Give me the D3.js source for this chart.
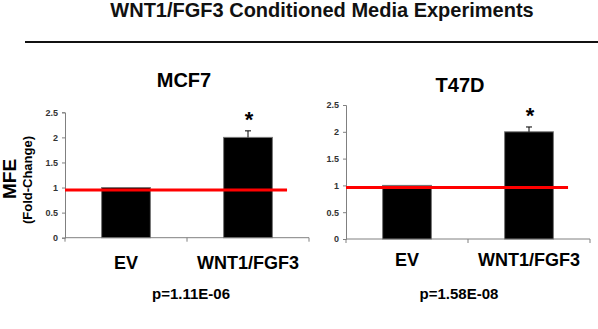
<!DOCTYPE html>
<html>
<head>
<meta charset="utf-8">
<script src="https://cdn.jsdelivr.net/npm/d3@7"></script>
<style>
  body { margin: 0; background: #fff; }
  svg { display: block; font-family: "Liberation Sans", Arial, sans-serif; }
</style>
</head>
<body>
<svg id="chart"></svg>
<script>
"use strict";

// data
const categories = ["EV", "WNT1/FGF3"];
const panelNames = ["MCF7", "T47D"];
const mcf7Values = [1.0, 2.0];
const mcf7Errors = [0, 0.13];
const t47dValues = [1.0, 2.0];
const t47dErrors = [0, 0.09];
const refLines = [0.95, 0.96];
const yTicks = [0, 0.5, 1, 1.5, 2, 2.5];
const pLabels = ["p=1.11E-06", "p=1.58E-08"];
const sigMarks = ["", "*"];

const W = 598, H = 329;
const svg = d3.select("#chart").attr("width", W).attr("height", H);

// main title + rule
svg.append("text")
  .attr("x", 322).attr("y", 17)
  .attr("text-anchor", "middle")
  .attr("font-size", 20).attr("font-weight", "bold")
  .attr("fill", "#111")
  .text("WNT1/FGF3 Conditioned Media Experiments");

svg.append("line")
  .attr("x1", 25).attr("x2", 598)
  .attr("y1", 42).attr("y2", 42)
  .attr("stroke", "#111").attr("stroke-width", 2);

// y axis label (shared, left side)
svg.append("text")
  .attr("transform", "translate(16,179) rotate(-90)")
  .attr("text-anchor", "middle")
  .attr("font-size", 19).attr("font-weight", "bold")
  .text("MFE");
svg.append("text")
  .attr("transform", "translate(32,180) rotate(-90)")
  .attr("text-anchor", "middle")
  .attr("font-size", 13).attr("font-weight", "bold")
  .text("(Fold-Change)");

// panel placement
const panels = [
  { name: panelNames[0], values: mcf7Values, errors: mcf7Errors, ref: refLines[0], p: pLabels[0],
    left: 65, right: 309, top: 112.3, bottom: 237.7, titleX: 184, titleY: 87, catY: 269, pX: 191, pY: 299 },
  { name: panelNames[1], values: t47dValues, errors: t47dErrors, ref: refLines[1], p: pLabels[1],
    left: 346, right: 590, top: 105, bottom: 239, titleX: 460, titleY: 92, catY: 266, pX: 459, pY: 299 }
];

panels.forEach(pn => {
  const g = svg.append("g");
  const x = d3.scaleBand().domain(categories).range([pn.left, pn.right]).padding(0);
  const y = d3.scaleLinear().domain([0, 2.5]).range([pn.bottom, pn.top]);
  const bw = x.bandwidth();

  // panel title
  g.append("text")
    .attr("x", pn.titleX).attr("y", pn.titleY)
    .attr("text-anchor", "middle")
    .attr("font-size", 20).attr("font-weight", "bold")
    .text(pn.name);

  // y axis
  const yAxis = g.append("g")
    .attr("transform", `translate(${pn.left},0)`)
    .call(d3.axisLeft(y).tickValues(yTicks).tickSize(3).tickPadding(4).tickFormat(d3.format("")));
  yAxis.select(".domain").attr("stroke", "#808080");
  yAxis.selectAll(".tick line").attr("stroke", "#808080");
  yAxis.selectAll(".tick text")
    .attr("font-size", 9).attr("font-weight", "bold").attr("fill", "#333")
    .attr("font-family", "Liberation Sans, Arial, sans-serif");

  // x axis: ticks at category boundaries
  g.append("line")
    .attr("x1", pn.left).attr("x2", pn.right)
    .attr("y1", y(0)).attr("y2", y(0))
    .attr("stroke", "#808080");
  const bounds = [pn.left].concat(categories.map(c => x(c) + bw));
  g.selectAll(".xtick").data(bounds).enter().append("line")
    .attr("x1", d => d).attr("x2", d => d)
    .attr("y1", y(0)).attr("y2", y(0) + 4)
    .attr("stroke", "#808080");

  const data = categories.map((c, i) => ({ cat: c, v: pn.values[i], e: pn.errors[i], s: sigMarks[i] }));

  // bars
  g.selectAll(".bar").data(data).enter().append("rect")
    .attr("x", d => x(d.cat) + bw * 0.3)
    .attr("width", bw * 0.4)
    .attr("y", d => y(d.v))
    .attr("height", d => y(0) - y(d.v))
    .attr("fill", "#000")
    .attr("stroke", "#777").attr("stroke-width", 1);

  // error bars
  const err = data.filter(d => d.e > 0);
  g.selectAll(".err").data(err).enter().append("line")
    .attr("x1", d => x(d.cat) + bw / 2).attr("x2", d => x(d.cat) + bw / 2)
    .attr("y1", d => y(d.v)).attr("y2", d => y(d.v + d.e))
    .attr("stroke", "#000");
  g.selectAll(".cap").data(err).enter().append("line")
    .attr("x1", d => x(d.cat) + bw / 2 - 3).attr("x2", d => x(d.cat) + bw / 2 + 3)
    .attr("y1", d => y(d.v + d.e)).attr("y2", d => y(d.v + d.e))
    .attr("stroke", "#000");

  // significance marks
  g.selectAll(".sig").data(data.filter(d => d.s)).enter().append("text")
    .attr("x", d => x(d.cat) + bw / 2 + 1)
    .attr("y", d => y(d.v + d.e) - 4)
    .attr("text-anchor", "middle")
    .attr("font-size", 22).attr("font-weight", "bold")
    .text(d => d.s);

  // red reference line
  g.append("line")
    .attr("x1", pn.left).attr("x2", pn.left + (pn.right - pn.left) * 0.91)
    .attr("y1", y(pn.ref)).attr("y2", y(pn.ref))
    .attr("stroke", "#f00").attr("stroke-width", 3);

  // category labels
  g.selectAll(".cat").data(categories).enter().append("text")
    .attr("x", d => x(d) + bw / 2)
    .attr("y", pn.catY)
    .attr("text-anchor", "middle")
    .attr("font-size", 18).attr("font-weight", "bold")
    .text(d => d);

  // p value
  g.append("text")
    .attr("x", pn.pX).attr("y", pn.pY)
    .attr("text-anchor", "middle")
    .attr("font-size", 15).attr("font-weight", "bold")
    .text(pn.p);
});
</script>
</body>
</html>
